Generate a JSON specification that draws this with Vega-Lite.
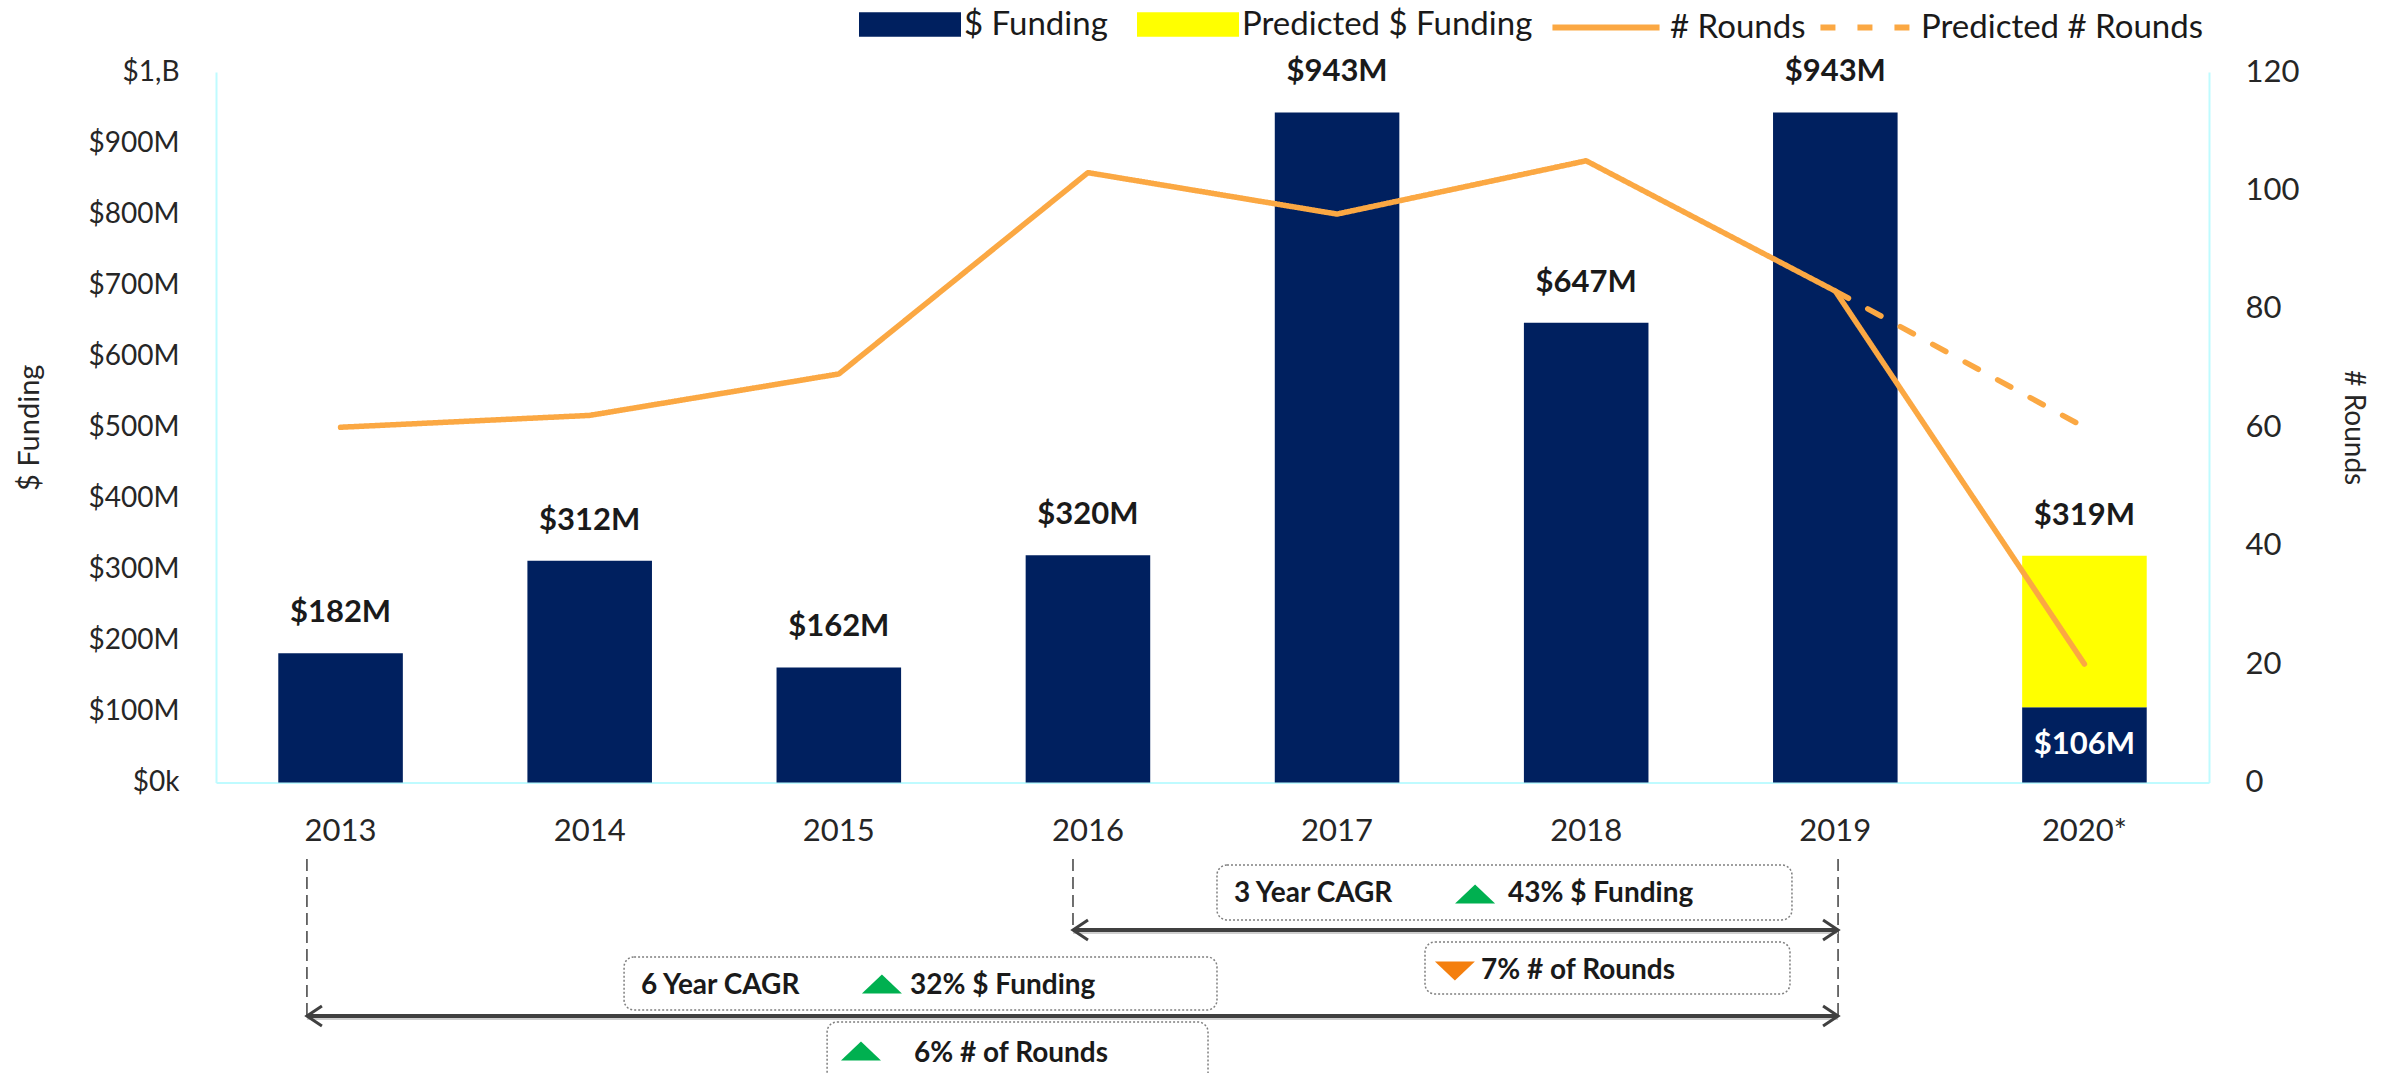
{
  "$schema": "https://vega.github.io/schema/vega-lite/v6.json",
  "background": "white",
  "padding": {"left": 15, "top": 7, "right": 20, "bottom": 0},
  "config": {"view": {"stroke": null}, "font": "Lato"},
  "spacing": 68,
  "bounds": "flush",
  "vconcat": [
    {
      "width": 1993,
      "height": 710.5,
      "layer": [
        {
          "data": {"values": [
            {"year": "2013", "series": "$ Funding", "value": 182, "ord": 1},
            {"year": "2014", "series": "$ Funding", "value": 312, "ord": 1},
            {"year": "2015", "series": "$ Funding", "value": 162, "ord": 1},
            {"year": "2016", "series": "$ Funding", "value": 320, "ord": 1},
            {"year": "2017", "series": "$ Funding", "value": 943, "ord": 1},
            {"year": "2018", "series": "$ Funding", "value": 647, "ord": 1},
            {"year": "2019", "series": "$ Funding", "value": 943, "ord": 1},
            {"year": "2020*", "series": "$ Funding", "value": 106, "ord": 1},
            {"year": "2020*", "series": "Predicted $ Funding", "value": 213, "ord": 2}
          ]},
          "mark": {"type": "bar"},
          "encoding": {
            "x": {
              "field": "year", "type": "nominal",
              "scale": {"domain": ["2013","2014","2015","2016","2017","2018","2019","2020*"], "paddingInner": 0.5, "paddingOuter": 0.25},
              "axis": {"title": null, "labelAngle": 0, "labelFont": "Lato", "labelFontSize": 31, "labelColor": "#262626", "labelPadding": 34, "ticks": false, "domainColor": "#BFFBFF", "domainWidth": 2}
            },
            "y": {
              "field": "value", "type": "quantitative", "stack": "zero",
              "scale": {"domain": [0, 1000], "nice": false},
              "axis": {
                "orient": "left", "values": [0,100,200,300,400,500,600,700,800,900,1000],
                "labelExpr": "datum.value == 0 ? '$0k' : datum.value == 1000 ? '$1,B' : '$' + datum.value + 'M'",
                "labelFont": "Lato", "labelFontSize": 28, "labelColor": "#262626", "labelPadding": 37,
                "ticks": false, "grid": false, "domainColor": "#BFFBFF", "domainWidth": 2,
                "title": "$ Funding", "titleFont": "Lato", "titleFontSize": 29, "titleFontWeight": "normal", "titleColor": "#262626", "titlePadding": 44
              }
            },
            "fill": {
              "field": "series", "type": "nominal",
              "scale": {"domain": ["$ Funding", "Predicted $ Funding"], "range": ["#00205F", "#FFFF00"]},
              "legend": {
                "orient": "none", "legendX": 677, "legendY": -64.5, "direction": "horizontal", "title": null,
                "symbolType": "M-3,-0.72H3V0.72H-3Z", "symbolSize": 1156, "symbolStrokeWidth": 0, "symbolOpacity": 1,
                "labelFont": "Lato", "labelFontSize": 33, "labelColor": "#1a1a1a", "labelOffset": 37, "labelLimit": 600,
                "columnPadding": 29, "padding": 0
              }
            },
            "order": {"field": "ord", "type": "quantitative"}
          }
        },
        {
          "data": {"values": [
            {"year": "2013", "series": "# Rounds", "rounds": 60},
            {"year": "2014", "series": "# Rounds", "rounds": 62},
            {"year": "2015", "series": "# Rounds", "rounds": 69},
            {"year": "2016", "series": "# Rounds", "rounds": 103},
            {"year": "2017", "series": "# Rounds", "rounds": 96},
            {"year": "2018", "series": "# Rounds", "rounds": 105},
            {"year": "2019", "series": "# Rounds", "rounds": 83},
            {"year": "2020*", "series": "# Rounds", "rounds": 20},
            {"year": "2019", "series": "Predicted # Rounds", "rounds": 83},
            {"year": "2020*", "series": "Predicted # Rounds", "rounds": 60}
          ]},
          "mark": {"type": "line", "strokeWidth": 5.5, "strokeCap": "round", "strokeJoin": "round"},
          "encoding": {
            "x": {"field": "year", "type": "nominal", "scale": {"domain": ["2013","2014","2015","2016","2017","2018","2019","2020*"], "paddingInner": 0.5, "paddingOuter": 0.25}},
            "y": {
              "field": "rounds", "type": "quantitative",
              "scale": {"domain": [0, 120], "nice": false},
              "axis": {
                "orient": "right", "values": [0,20,40,60,80,100,120],
                "labelFont": "Lato", "labelFontSize": 31, "labelColor": "#262626", "labelPadding": 36,
                "ticks": false, "grid": false, "domainColor": "#BFFBFF", "domainWidth": 2,
                "title": "# Rounds", "titleFont": "Lato", "titleFontSize": 28, "titleFontWeight": "normal", "titleColor": "#262626", "titlePadding": 40
              }
            },
            "stroke": {
              "field": "series", "type": "nominal",
              "scale": {"domain": ["# Rounds", "Predicted # Rounds"], "range": ["#FBA843", "#FBA843"]},
              "legend": {
                "orient": "none", "legendX": 1370, "legendY": -64.5, "direction": "horizontal", "title": null,
                "symbolType": "M-3.15,0H3.15", "symbolSize": 1156, "symbolStrokeWidth": 6, "symbolDashOffset": 20,
                "labelFont": "Lato", "labelFontSize": 33, "labelColor": "#1a1a1a", "labelOffset": 44, "labelLimit": 600,
                "columnPadding": -15, "padding": 0
              }
            },
            "strokeDash": {
              "field": "series", "type": "nominal",
              "scale": {"domain": ["# Rounds", "Predicted # Rounds"], "range": [[1, 0], [15, 22]]},
              "legend": {
                "orient": "none", "legendX": 1370, "legendY": -64.5, "direction": "horizontal", "title": null,
                "symbolType": "M-3.15,0H3.15", "symbolSize": 1156, "symbolStrokeWidth": 6, "symbolDashOffset": 20,
                "labelFont": "Lato", "labelFontSize": 33, "labelColor": "#1a1a1a", "labelOffset": 44, "labelLimit": 600,
                "columnPadding": -15, "padding": 0
              }
            }
          }
        },
        {
          "data": {"values": [
            {"year": "2013", "value": 182, "label": "$182M"},
            {"year": "2014", "value": 312, "label": "$312M"},
            {"year": "2015", "value": 162, "label": "$162M"},
            {"year": "2016", "value": 320, "label": "$320M"},
            {"year": "2017", "value": 943, "label": "$943M"},
            {"year": "2018", "value": 647, "label": "$647M"},
            {"year": "2019", "value": 943, "label": "$943M"},
            {"year": "2020*", "value": 319, "label": "$319M"}
          ]},
          "mark": {"type": "text", "font": "Lato", "fontSize": 31, "fontWeight": "bold", "color": "#1a1a1a", "baseline": "middle", "dy": -40},
          "encoding": {
            "x": {"field": "year", "type": "nominal", "scale": {"domain": ["2013","2014","2015","2016","2017","2018","2019","2020*"], "paddingInner": 0.5, "paddingOuter": 0.25}},
            "y": {"field": "value", "type": "quantitative", "scale": {"domain": [0, 1000], "nice": false}, "axis": null},
            "text": {"field": "label"}
          }
        },
        {
          "data": {"values": [
            {"year": "2020*", "value": 53, "label": "$106M"}
          ]},
          "mark": {"type": "text", "font": "Lato", "fontSize": 31, "fontWeight": "bold", "color": "white", "baseline": "middle"},
          "encoding": {
            "x": {"field": "year", "type": "nominal", "scale": {"domain": ["2013","2014","2015","2016","2017","2018","2019","2020*"], "paddingInner": 0.5, "paddingOuter": 0.25}},
            "y": {"field": "value", "type": "quantitative", "scale": {"domain": [0, 1000], "nice": false}, "axis": null},
            "text": {"field": "label"}
          }
        }
      ],
      "resolve": {"scale": {"y": "independent"}}
    },
    {
      "width": 1993,
      "height": 223,
      "layer": [
        {
          "data": {"values": [
            {"x": 0.365, "y": 96.4, "y2": 26.0},
            {"x": 3.44, "y": 96.4, "y2": 64.6},
            {"x": 6.511, "y": 96.4, "y2": 26.0}
          ]},
          "mark": {"type": "rule", "color": "#404040", "strokeWidth": 1.5, "strokeDash": [12, 6]},
          "encoding": {
            "x": {"field": "x", "type": "quantitative", "scale": {"domain": [0, 8], "nice": false, "zero": false}, "axis": null},
            "y": {"field": "y", "type": "quantitative", "scale": {"domain": [0, 100], "nice": false, "zero": false}, "axis": null},
            "y2": {"field": "y2"}
          }
        },
        {
          "data": {"values": [
            {"x": 3.44, "x2": 6.511, "y": 63.7},
            {"x": 0.365, "x2": 6.511, "y": 25.1}
          ]},
          "mark": {"type": "rule", "color": "#cfcfcf", "strokeWidth": 4},
          "encoding": {
            "x": {"field": "x", "type": "quantitative", "scale": {"domain": [0, 8], "nice": false, "zero": false}, "axis": null},
            "x2": {"field": "x2"},
            "y": {"field": "y", "type": "quantitative", "scale": {"domain": [0, 100], "nice": false, "zero": false}, "axis": null}
          }
        },
        {
          "data": {"values": [
            {"x": 3.44, "x2": 6.511, "y": 64.6},
            {"x": 0.365, "x2": 6.511, "y": 26.0}
          ]},
          "mark": {"type": "rule", "color": "#404040", "strokeWidth": 4},
          "encoding": {
            "x": {"field": "x", "type": "quantitative", "scale": {"domain": [0, 8], "nice": false, "zero": false}, "axis": null},
            "x2": {"field": "x2"},
            "y": {"field": "y", "type": "quantitative", "scale": {"domain": [0, 100], "nice": false, "zero": false}, "axis": null}
          }
        },
        {
          "data": {"values": [
            {"id": "a1", "k": 1, "x": 3.5002, "y": 69.08},
            {"id": "a1", "k": 2, "x": 3.44, "y": 64.6},
            {"id": "a1", "k": 3, "x": 3.5002, "y": 60.12},
            {"id": "a2", "k": 1, "x": 6.4508, "y": 69.08},
            {"id": "a2", "k": 2, "x": 6.511, "y": 64.6},
            {"id": "a2", "k": 3, "x": 6.4508, "y": 60.12},
            {"id": "a3", "k": 1, "x": 0.4252, "y": 30.48},
            {"id": "a3", "k": 2, "x": 0.365, "y": 26.0},
            {"id": "a3", "k": 3, "x": 0.4252, "y": 21.52},
            {"id": "a4", "k": 1, "x": 6.4508, "y": 30.48},
            {"id": "a4", "k": 2, "x": 6.511, "y": 26.0},
            {"id": "a4", "k": 3, "x": 6.4508, "y": 21.52}
          ]},
          "mark": {"type": "line", "color": "#404040", "strokeWidth": 3, "strokeJoin": "miter"},
          "encoding": {
            "x": {"field": "x", "type": "quantitative", "scale": {"domain": [0, 8], "nice": false, "zero": false}, "axis": null},
            "y": {"field": "y", "type": "quantitative", "scale": {"domain": [0, 100], "nice": false, "zero": false}, "axis": null},
            "detail": {"field": "id", "type": "nominal"},
            "order": {"field": "k", "type": "quantitative"}
          }
        },
        {
          "data": {"values": [
            {"x": 4.018, "x2": 6.326, "y": 93.7, "y2": 69.1},
            {"x": 4.853, "x2": 6.318, "y": 59.2, "y2": 35.9},
            {"x": 1.638, "x2": 4.018, "y": 52.5, "y2": 28.7},
            {"x": 2.453, "x2": 3.982, "y": 23.3, "y2": -5.4}
          ]},
          "mark": {"type": "rect", "fill": "white", "stroke": "#7f7f7f", "strokeWidth": 1.5, "strokeDash": [2, 2], "cornerRadius": 10},
          "encoding": {
            "x": {"field": "x", "type": "quantitative", "scale": {"domain": [0, 8], "nice": false, "zero": false}, "axis": null},
            "x2": {"field": "x2"},
            "y": {"field": "y", "type": "quantitative", "scale": {"domain": [0, 100], "nice": false, "zero": false}, "axis": null},
            "y2": {"field": "y2"}
          }
        },
        {
          "data": {"values": [
            {"id": "t1", "dir": "up", "x": 4.9737, "y": 76.44, "y2": 76.44},
            {"id": "t1", "dir": "up", "x": 5.054, "y": 84.96, "y2": 76.44},
            {"id": "t1", "dir": "up", "x": 5.1343, "y": 76.44, "y2": 76.44},
            {"id": "t2", "dir": "down", "x": 4.8927, "y": 50.46, "y2": 50.46},
            {"id": "t2", "dir": "down", "x": 4.973, "y": 41.94, "y2": 50.46},
            {"id": "t2", "dir": "down", "x": 5.0533, "y": 50.46, "y2": 50.46},
            {"id": "t3", "dir": "up", "x": 2.5927, "y": 36.14, "y2": 36.14},
            {"id": "t3", "dir": "up", "x": 2.673, "y": 44.66, "y2": 36.14},
            {"id": "t3", "dir": "up", "x": 2.7533, "y": 36.14, "y2": 36.14},
            {"id": "t4", "dir": "up", "x": 2.5087, "y": 6.04, "y2": 6.04},
            {"id": "t4", "dir": "up", "x": 2.589, "y": 14.56, "y2": 6.04},
            {"id": "t4", "dir": "up", "x": 2.6693, "y": 6.04, "y2": 6.04}
          ]},
          "mark": {"type": "area", "opacity": 1, "interpolate": "linear"},
          "encoding": {
            "x": {"field": "x", "type": "quantitative", "scale": {"domain": [0, 8], "nice": false, "zero": false}, "axis": null},
            "y": {"field": "y", "type": "quantitative", "scale": {"domain": [0, 100], "nice": false, "zero": false}, "axis": null},
            "y2": {"field": "y2"},
            "detail": {"field": "id", "type": "nominal"},
            "color": {"field": "dir", "type": "nominal", "scale": {"domain": ["up", "down"], "range": ["#00B050", "#F47F0E"]}, "legend": null}
          }
        },
        {
          "data": {"values": [
            {"x": 4.086, "y": 80.7, "t": "3 Year CAGR"},
            {"x": 5.186, "y": 80.7, "t": "43% $ Funding"},
            {"x": 5.078, "y": 46.2, "t": "7% # of Rounds"},
            {"x": 1.706, "y": 39.5, "t": "6 Year CAGR"},
            {"x": 2.786, "y": 39.5, "t": "32% $ Funding"},
            {"x": 2.802, "y": 9.0, "t": "6% # of Rounds"}
          ]},
          "mark": {"type": "text", "align": "left", "baseline": "middle", "font": "Lato", "fontSize": 28, "fontWeight": "bold", "color": "#1a1a1a"},
          "encoding": {
            "x": {"field": "x", "type": "quantitative", "scale": {"domain": [0, 8], "nice": false, "zero": false}, "axis": null},
            "y": {"field": "y", "type": "quantitative", "scale": {"domain": [0, 100], "nice": false, "zero": false}, "axis": null},
            "text": {"field": "t"}
          }
        }
      ]
    }
  ]
}
